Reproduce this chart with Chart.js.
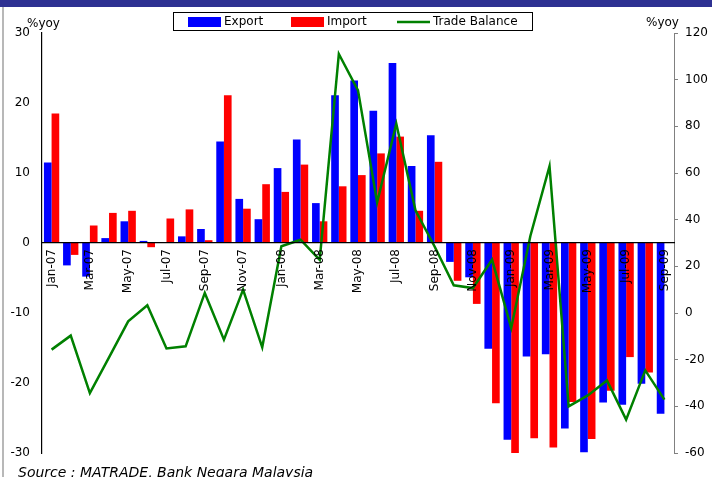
<!DOCTYPE html>
<html>
<head>
<meta charset="utf-8">
<script src="https://cdn.jsdelivr.net/npm/chart.js@4.4.1/dist/chart.umd.min.js"></script>
<style>
  html, body { margin: 0; padding: 0; background: #ffffff; }
  #wrap { width: 712px; height: 477px; position: relative; }
</style>
</head>
<body>
<div id="wrap"><canvas id="chart" width="712" height="477"></canvas></div>
<script>
// Monthly categories, Jan-07 to Sep-09
const months = [
  'Jan-07','Feb-07','Mar-07','Apr-07','May-07','Jun-07','Jul-07','Aug-07','Sep-07','Oct-07','Nov-07','Dec-07',
  'Jan-08','Feb-08','Mar-08','Apr-08','May-08','Jun-08','Jul-08','Aug-08','Sep-08','Oct-08','Nov-08','Dec-08',
  'Jan-09','Feb-09','Mar-09','Apr-09','May-09','Jun-09','Jul-09','Aug-09','Sep-09'
];

// Export growth, %yoy (left axis)
const exportGrowth = [
  11.5, -3.2, -4.8, 0.7, 3.1, 0.3, 0.0, 0.95, 2.0, 14.5, 6.3, 3.4,
  10.7, 14.8, 5.7, 21.1, 23.2, 18.9, 25.7, 11.0, 15.4, -2.7, -4.9, -15.1,
  -28.1, -16.2, -15.9, -26.5, -29.9, -22.8, -23.1, -20.1, -24.4
];

// Import growth, %yoy (left axis); Sep-09 not yet available
const importGrowth = [
  18.5, -1.7, 2.5, 4.3, 4.6, -0.6, 3.5, 4.8, 0.4, 21.1, 4.9, 8.4,
  7.3, 11.2, 3.1, 8.1, 9.7, 12.8, 15.2, 4.6, 11.6, -5.4, -8.7, -22.9,
  -30.5, -27.9, -29.2, -22.7, -28.0, -21.1, -16.3, -18.5, null
];

// Trade balance growth, %yoy (right axis)
const tradeBalance = [
  -15.7, -9.7, -34.3, -19.0, -3.6, 3.3, -15.2, -14.3, 8.6, -11.4, 10.0, -14.7,
  28.6, 31.4, 22.8, 111.0, 95.4, 47.4, 81.1, 44.0, 28.5, 11.9, 10.7, 22.8,
  -6.4, 33.0, 62.9, -40.0, -35.3, -28.9, -45.7, -24.6, -37.1
];

const FONT = 'DejaVu Sans, Verdana, sans-serif';
const axisTitle = '%yoy';
const sourceNote = 'Source : MATRADE, Bank Negara Malaysia';

// Page frame: header band and left rule
const framePlugin = {
  id: 'frame',
  beforeDraw(chart) {
    const ctx = chart.ctx;
    ctx.save();
    ctx.fillStyle = '#ffffff';
    ctx.fillRect(0, 0, chart.width, chart.height);
    ctx.fillStyle = '#2e3192';
    ctx.fillRect(0, 0, chart.width, 7);
    ctx.strokeStyle = '#a0a0a0';
    ctx.lineWidth = 1.5;
    ctx.beginPath();
    ctx.moveTo(3, 7);
    ctx.lineTo(3, chart.height);
    ctx.stroke();
    ctx.restore();
  }
};

// Boxed legend, axis titles and source note
const annotatePlugin = {
  id: 'annotate',
  afterDraw(chart) {
    const ctx = chart.ctx;
    ctx.save();
    ctx.font = '12px ' + FONT;
    ctx.fillStyle = '#000';
    ctx.textBaseline = 'alphabetic';
    ctx.textAlign = 'left';
    ctx.fillText(axisTitle, 27, 27);
    ctx.fillText(axisTitle, 646, 26);

    // legend frame
    ctx.strokeStyle = '#000';
    ctx.lineWidth = 1;
    ctx.strokeRect(173.5, 12.5, 359, 18);

    const items = chart.data.datasets;
    const slots = [188, 291, 397];
    ctx.textBaseline = 'middle';
    items.forEach((ds, i) => {
      const x = slots[i];
      if (ds.type === 'line') {
        ctx.strokeStyle = ds.borderColor;
        ctx.lineWidth = 2.5;
        ctx.beginPath();
        ctx.moveTo(x, 22);
        ctx.lineTo(x + 33, 22);
        ctx.stroke();
      } else {
        ctx.fillStyle = ds.backgroundColor;
        ctx.fillRect(x, 17, 33, 10);
      }
      ctx.fillStyle = '#000';
      ctx.fillText(ds.label, x + 36, 22);
    });

    ctx.font = 'italic 14px ' + FONT;
    ctx.textBaseline = 'alphabetic';
    ctx.fillText(sourceNote, 18, 477);
    ctx.restore();
  }
};

new Chart(document.getElementById('chart'), {
  data: {
    labels: months,
    datasets: [
      {
        type: 'bar',
        label: 'Export',
        data: exportGrowth,
        backgroundColor: '#0000ff',
        yAxisID: 'y',
        order: 1,
        categoryPercentage: 0.8,
        barPercentage: 1.0
      },
      {
        type: 'bar',
        label: 'Import',
        data: importGrowth,
        backgroundColor: '#ff0000',
        yAxisID: 'y',
        order: 1,
        categoryPercentage: 0.8,
        barPercentage: 1.0
      },
      {
        type: 'line',
        label: 'Trade Balance',
        data: tradeBalance,
        borderColor: '#008000',
        borderWidth: 2.5,
        pointRadius: 0,
        tension: 0,
        fill: false,
        yAxisID: 'y1',
        order: 0
      }
    ]
  },
  options: {
    responsive: false,
    animation: false,
    devicePixelRatio: 1,
    layout: { padding: { top: 33, bottom: 24, left: 0, right: 0 } },
    plugins: {
      legend: { display: false },
      tooltip: { enabled: false }
    },
    scales: {
      x: {
        type: 'category',
        position: { y: 0 },
        offset: true,
        grid: { display: true, drawOnChartArea: false, drawTicks: false, z: 1 },
        border: { display: true, color: '#000', width: 1.2, z: 1 },
        ticks: {
          autoSkip: false,
          minRotation: 90,
          maxRotation: 90,
          padding: 6,
          color: '#000',
          z: 2,
          font: { family: FONT, size: 12 },
          callback: (v, i) => (i % 2 === 0 ? months[i] : '')
        }
      },
      y: {
        position: 'left',
        min: -30,
        max: 30,
        grid: { display: false, drawTicks: false },
        border: { display: true, color: '#000', width: 1.2 },
        ticks: {
          stepSize: 10,
          padding: 12,
          color: '#000',
          font: { family: FONT, size: 12 }
        },
        afterFit(scale) { scale.width = 42; }
      },
      y1: {
        position: 'right',
        min: -60,
        max: 120,
        grid: { display: true, drawOnChartArea: false, drawTicks: true, tickLength: 4, color: '#808080' },
        border: { display: true, color: '#808080', width: 1 },
        ticks: {
          stepSize: 20,
          padding: 7,
          color: '#000',
          font: { family: FONT, size: 12 }
        },
        afterFit(scale) { scale.width = 38; }
      }
    }
  },
  plugins: [framePlugin, annotatePlugin]
});
</script>
</body>
</html>
